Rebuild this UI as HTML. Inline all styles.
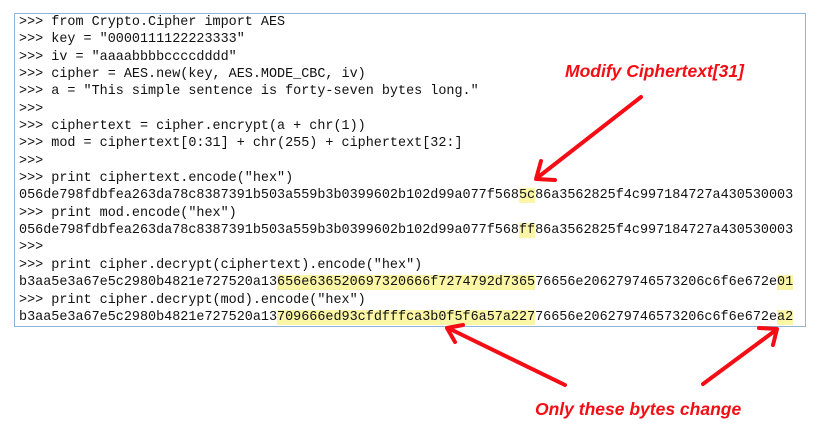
<!DOCTYPE html>
<html><head><meta charset="utf-8"><style>
html,body{margin:0;padding:0;background:#fff;}
body{width:825px;height:435px;position:relative;overflow:hidden;}
.box{position:absolute;left:14px;top:13px;width:792px;height:314px;border:1px solid #8fb3da;box-sizing:border-box;}
pre{position:absolute;left:19px;top:14px;margin:0;font-family:"Liberation Mono",monospace;font-size:13.45px;line-height:17.35px;color:#111;}
.h{background:#fbf6a6;}
.lab{position:absolute;color:#f40d14;font-family:"Liberation Sans",sans-serif;font-weight:bold;font-style:italic;font-size:17.5px;white-space:nowrap;}
svg{position:absolute;left:0;top:0;}
</style></head><body>
<div class="box"></div>
<pre>&gt;&gt;&gt; from Crypto.Cipher import AES
&gt;&gt;&gt; key = "0000111122223333"
&gt;&gt;&gt; iv = "aaaabbbbccccdddd"
&gt;&gt;&gt; cipher = AES.new(key, AES.MODE_CBC, iv)
&gt;&gt;&gt; a = "This simple sentence is forty-seven bytes long."
&gt;&gt;&gt;
&gt;&gt;&gt; ciphertext = cipher.encrypt(a + chr(1))
&gt;&gt;&gt; mod = ciphertext[0:31] + chr(255) + ciphertext[32:]
&gt;&gt;&gt;
&gt;&gt;&gt; print ciphertext.encode("hex")
056de798fdbfea263da78c8387391b503a559b3b0399602b102d99a077f568<span class="h">5c</span>86a3562825f4c997184727a430530003
&gt;&gt;&gt; print mod.encode("hex")
056de798fdbfea263da78c8387391b503a559b3b0399602b102d99a077f568<span class="h">ff</span>86a3562825f4c997184727a430530003
&gt;&gt;&gt;
&gt;&gt;&gt; print cipher.decrypt(ciphertext).encode("hex")
b3aa5e3a67e5c2980b4821e727520a13<span class="h">656e636520697320666f7274792d7365</span>76656e206279746573206c6f6e672e<span class="h">01</span>
&gt;&gt;&gt; print cipher.decrypt(mod).encode("hex")
b3aa5e3a67e5c2980b4821e727520a13<span class="h">709666ed93cfdfffca3b0f5f6a57a227</span>76656e206279746573206c6f6e672e<span class="h">a2</span></pre>
<div class="lab" style="left:565px;top:61px;">Modify Ciphertext[31]</div>
<div class="lab" style="left:535px;top:399px;">Only these bytes change</div>
<svg width="825" height="435">
<g stroke="#f40d14" stroke-width="4" fill="none" stroke-linecap="round" stroke-linejoin="round">
<line x1="641" y1="97" x2="537" y2="178"/>
<polyline points="541,161 536,179 555,180"/>
<line x1="565" y1="385" x2="448" y2="328"/>
<polyline points="455,342 447,328 463,325"/>
<line x1="703" y1="384" x2="776" y2="330"/>
<polyline points="759,328 777,329 773,345"/>
</g>
</svg>
</body></html>
